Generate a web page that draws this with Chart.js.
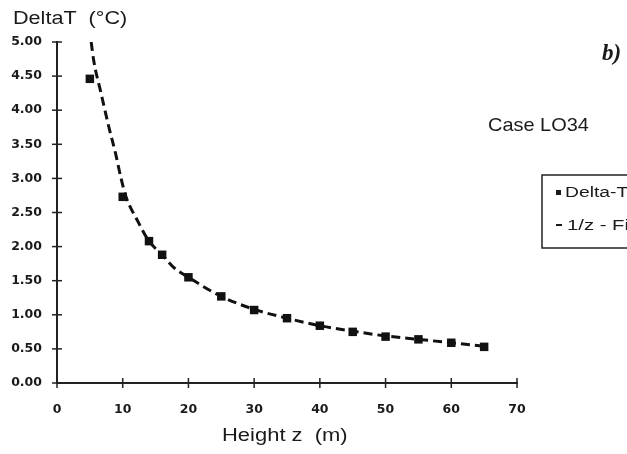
<!DOCTYPE html>
<html>
<head>
<meta charset="utf-8">
<script src="https://cdn.jsdelivr.net/npm/chart.js@4.4.0/dist/chart.umd.min.js"></script>
<style>
  html, body { margin: 0; padding: 0; background: #fff; }
  #wrap { width: 627px; height: 454px; }
</style>
</head>
<body>
<div id="wrap"><canvas id="chart" width="627" height="454"></canvas></div>
<script>
// Measured points (Delta-T)
const heights = [5, 10, 14, 16, 20, 25, 30, 35, 40, 45, 50, 55, 60, 65];
const deltaT = [4.46, 2.73, 2.08, 1.88, 1.55, 1.27, 1.07, 0.95, 0.84, 0.75, 0.68, 0.64, 0.59, 0.53];

// 1/z fit curve
const fitHeights = [5.2, 5.6, 6.7, 7.9, 8.9, 9.7, 10.5, 12.2, 14, 16, 17.7, 20, 25, 30, 35, 40, 45, 50, 55, 60, 65];
const fitValues = [5.0, 4.72, 4.25, 3.75, 3.37, 3.02, 2.73, 2.39, 2.08, 1.88, 1.70, 1.55, 1.27, 1.08, 0.95, 0.84, 0.76, 0.69, 0.64, 0.59, 0.54];

const xTicks = [0, 10, 20, 30, 40, 50, 60, 70];
const yTicks = [0, 0.5, 1, 1.5, 2, 2.5, 3, 3.5, 4, 4.5, 5];

const legendLabels = ['Delta-T', '1/z - Fit'];
const caseTitle = 'Case LO34';
const panelTag = 'b)';
const xTitle = 'Height z  (m)';
const yTitle = 'DeltaT  (°C)';

const tickFont = { family: 'DejaVu Sans', size: 12.5, weight: 'bold' };

// the scanned lettering is a bit wider than Arial, so stretch it sideways
function wideText(ctx, text, x, y, font, sx, align) {
    ctx.save();
    ctx.font = font;
    ctx.textAlign = align || 'left';
    ctx.textBaseline = 'middle';
    ctx.translate(x, y);
    ctx.scale(sx, 1);
    ctx.fillText(text, 0, 0);
    ctx.restore();
}

// Cross ticks, axis titles, annotations and the clipped legend box
const decorations = {
    id: 'decorations',
    afterDraw(chart) {
        const ctx = chart.ctx;
        const xs = chart.scales.x, ys = chart.scales.y;
        const area = chart.chartArea;
        ctx.save();
        ctx.strokeStyle = '#222';
        ctx.lineWidth = 1.5;
        yTicks.forEach(v => {
            const py = ys.getPixelForValue(v);
            ctx.beginPath();
            ctx.moveTo(area.left - 5, py);
            ctx.lineTo(area.left + 5, py);
            ctx.stroke();
        });
        xTicks.forEach(v => {
            const px = xs.getPixelForValue(v);
            ctx.beginPath();
            ctx.moveTo(px, area.bottom - 5);
            ctx.lineTo(px, area.bottom + 5);
            ctx.stroke();
        });

        ctx.fillStyle = '#1a1a1a';
        wideText(ctx, yTitle, 13, 19, '18px "Liberation Sans"', 1.2);
        wideText(ctx, xTitle, 222, 436, '18px "Liberation Sans"', 1.22);
        wideText(ctx, caseTitle, 488, 126, '19px "Liberation Sans"', 1.05);
        wideText(ctx, panelTag, 602, 54, 'italic bold 23px "Liberation Serif"', 1);

        // legend box, runs off the right edge like the original
        ctx.lineWidth = 1.5;
        ctx.strokeStyle = '#222';
        ctx.strokeRect(542, 175, 120, 73);
        ctx.fillRect(556, 190, 5, 5);
        ctx.fillRect(556, 224, 6, 2);
        wideText(ctx, legendLabels[0], 565, 193, '14px "Liberation Sans"', 1.38);
        wideText(ctx, legendLabels[1], 567, 226, '14px "Liberation Sans"', 1.45);
        ctx.restore();
    }
};

const ctx = document.getElementById('chart');
new Chart(ctx, {
    type: 'scatter',
    data: {
        datasets: [{
            label: legendLabels[1],
            data: fitHeights.map((z, i) => ({ x: z, y: fitValues[i] })),
            showLine: true,
            borderColor: '#111',
            borderWidth: 3,
            borderDash: [9, 5],
            pointRadius: 0,
            cubicInterpolationMode: 'monotone',
            fill: false
        }, {
            label: legendLabels[0],
            data: heights.map((z, i) => ({ x: z, y: deltaT[i] })),
            pointStyle: 'rect',
            pointRadius: 6,
            backgroundColor: '#111',
            borderColor: '#111',
            borderWidth: 0
        }]
    },
    options: {
        responsive: false,
        animation: false,
        devicePixelRatio: 1,
        layout: { padding: { left: 0, right: 110, top: 42, bottom: 0 } },
        plugins: { legend: { display: false }, tooltip: { enabled: false } },
        scales: {
            x: {
                type: 'linear',
                min: 0, max: 70,
                afterBuildTicks: s => { s.ticks = xTicks.map(v => ({ value: v })); },
                afterFit: s => { s.height = 71; },
                grid: { display: false },
                border: { display: true, color: '#222', width: 2 },
                ticks: { font: tickFont, color: '#1a1a1a', padding: 11 }
            },
            y: {
                type: 'linear',
                min: 0, max: 5,
                afterBuildTicks: s => { s.ticks = yTicks.map(v => ({ value: v })); },
                afterFit: s => { s.width = 57; },
                grid: { display: false },
                border: { display: true, color: '#222', width: 2 },
                ticks: {
                    font: tickFont, color: '#1a1a1a', padding: 7,
                    callback: v => Number(v).toFixed(2)
                }
            }
        }
    },
    plugins: [decorations]
});
</script>
</body>
</html>
